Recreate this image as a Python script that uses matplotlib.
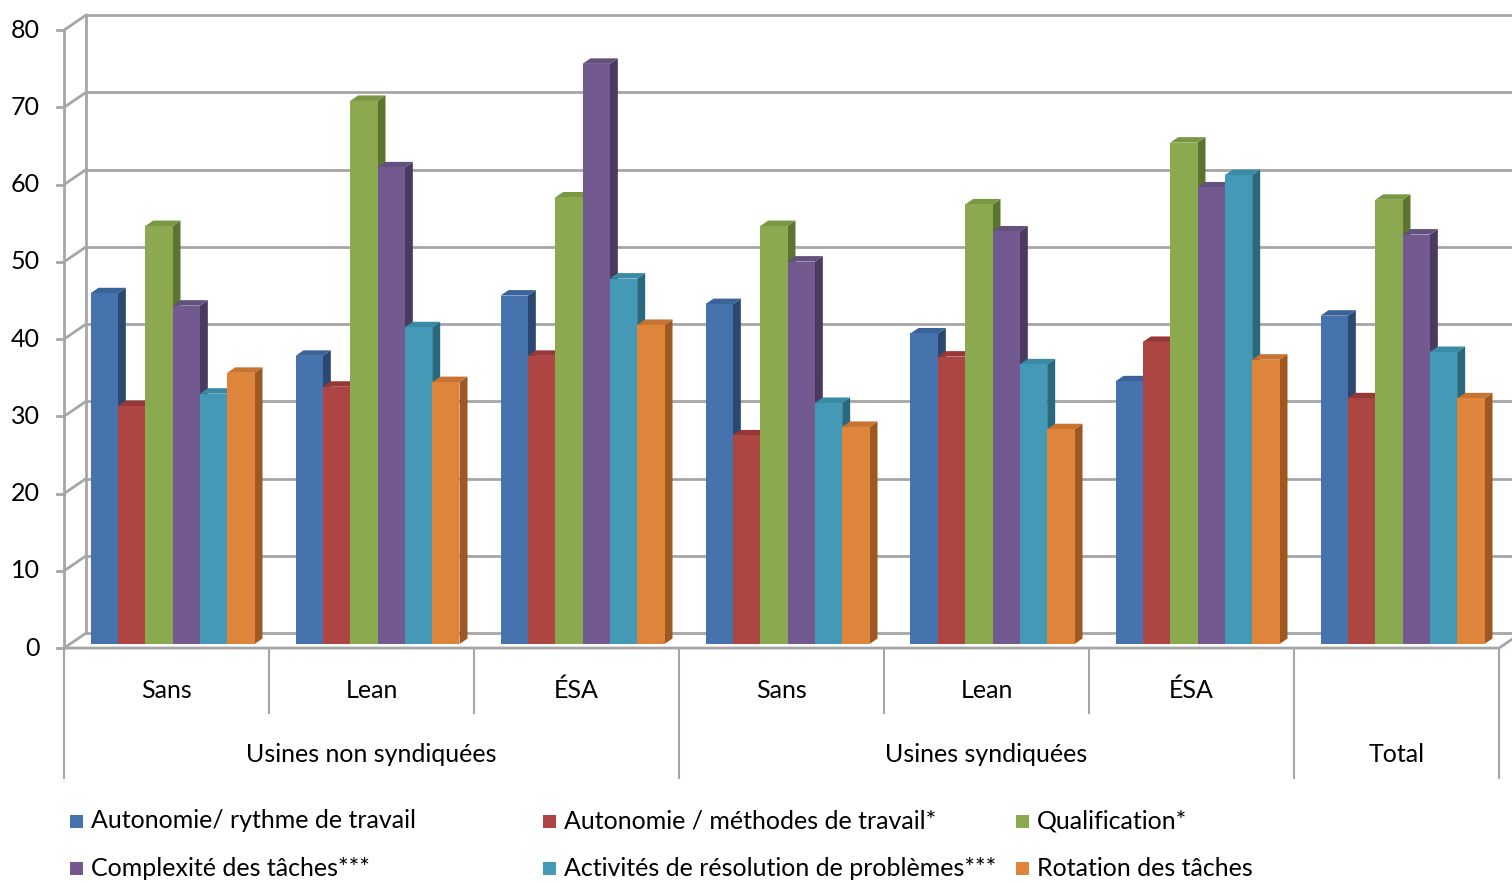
import matplotlib.pyplot as plt
from matplotlib.patches import Polygon, Rectangle

plt.rcParams['font.family'] = ['Lato', 'DejaVu Sans']

# ------------------------------------------------------------
# data
# ------------------------------------------------------------
categories = ['Sans', 'Lean', 'ÉSA', 'Sans', 'Lean', 'ÉSA', '']
groups = ['Usines non syndiquées', 'Usines syndiquées', 'Total']
group_spans = [(0, 3), (3, 6), (6, 7)]

series_names = ['Autonomie/ rythme de travail',
                'Autonomie / méthodes de travail*',
                'Qualification*',
                'Complexité des tâches***',
                'Activités de résolution de problèmes***',
                'Rotation des tâches']
autonomie_rythme   = [45.4, 37.3, 45.1, 44.0, 40.2, 34.0, 42.5]
autonomie_methodes = [30.8, 33.3, 37.3, 27.0, 37.2, 39.1, 31.8]
qualification      = [54.1, 70.3, 57.8, 54.1, 56.9, 64.9, 57.5]
complexite         = [43.8, 61.7, 75.1, 49.5, 53.4, 59.1, 53.0]
resolution         = [32.4, 41.0, 47.3, 31.2, 36.2, 60.7, 37.8]
rotation           = [35.1, 33.9, 41.3, 28.1, 27.8, 36.8, 31.8]
series = [autonomie_rythme, autonomie_methodes, qualification,
          complexite, resolution, rotation]
yticks = list(range(0, 81, 10))

# front / side / top colours
colors = [('#4672AD', '#2B4970', '#3A6399'),
          ('#AD4542', '#7A2D2B', '#963836'),
          ('#8BA94F', '#5C7431', '#7A9844'),
          ('#72598F', '#4A3A60', '#62507E'),
          ('#4399B6', '#28697F', '#398AA5'),
          ('#DE843B', '#9E5821', '#C87332')]

# ------------------------------------------------------------
# geometry (pixels -> data)
# ------------------------------------------------------------
W, H = 1512, 882
X0, Y0 = 70, 644          # bar plane origin in pixels
PX, PY = 205, 7.725       # pixels per category / per unit
FS = 18

def dx(p): return p / PX
def dy(p): return p / PY
def xd(p): return (p - X0) / PX
def yd(p): return (Y0 - p) / PY

fx, fy = dx(-5.9), dy(-4.05)    # front plane offset
bx, by = dx(16.1), dy(10.95)    # back wall offset
sx, sy = dx(8), dy(5.5)         # bar depth offset

fig = plt.figure(figsize=(W / 100, H / 100), dpi=100)
ax = fig.add_axes([0, 0, 1, 1])
ax.set_xlim(xd(0), xd(W))
ax.set_ylim(yd(H), yd(0))
ax.axis('off')

GRID = '#A6A6A6'
n = len(categories)
for v in yticks:
    ax.plot([bx, xd(W)], [v + by, v + by], color=GRID, lw=2, zorder=1)
    ax.plot([fx, bx], [v + fy, v + by], color=GRID, lw=2, zorder=1)
    ax.plot([fx - dx(7), fx], [v + fy, v + fy], color=GRID, lw=2, zorder=1)
    ax.text(fx - dx(24), v + fy, str(v), ha='right', va='center',
            fontsize=FS, color='black')
ax.plot([fx, fx], [fy, 80 + fy], color=GRID, lw=2, zorder=1)
ax.plot([bx, bx], [by, 80 + by], color=GRID, lw=2, zorder=1)
ax.plot([fx, n + fx, n + bx], [fy, fy, by], color=GRID, lw=2, zorder=1)

# bars
ns = len(series)
bw = 1 / (ns + 1.5)
start = (1 - ns * bw) / 2
z = 3
for i in range(n):
    for k, vals in enumerate(series):
        x0 = i + start + k * bw
        v = vals[i]
        cf, cs, ct = colors[k]
        ax.add_patch(Polygon([(x0 + bw, 0), (x0 + bw + sx, sy),
                              (x0 + bw + sx, v + sy), (x0 + bw, v)],
                             closed=True, fc=cs, ec='none', zorder=z))
        ax.add_patch(Polygon([(x0, v), (x0 + bw, v), (x0 + bw + sx, v + sy),
                              (x0 + sx, v + sy)],
                             closed=True, fc=ct, ec='none', zorder=z))
        ax.bar(x0, v, width=bw, align='edge', color=cf, zorder=z + 0.5)
        z += 1

# category axis
lvl1, lvl2 = yd(713), yd(778)
for i in range(n + 1):
    bottom = lvl2 if i in (0, 3, 6, 7) else lvl1
    ax.plot([i + fx, i + fx], [fy, bottom], color=GRID, lw=1.5, zorder=1)
for i, c in enumerate(categories):
    ax.text(i + 0.5 + fx, yd(690), c, ha='center', va='center', fontsize=FS)
for g, (a, b) in zip(groups, group_spans):
    ax.text((a + b) / 2 + fx, yd(755), g, ha='center', va='center', fontsize=FS)

# legend
leg_x = [70, 543, 1016]
leg_y = [821, 868]
for k, name in enumerate(series_names):
    px_, py_ = leg_x[k % 3], leg_y[k // 3]
    ax.add_patch(Rectangle((xd(px_), yd(py_ + 7)), dx(13), dy(13),
                           fc=colors[k][0], ec='none'))
    ax.text(xd(px_ + 21), yd(py_), name, ha='left', va='center', fontsize=FS)

fig.savefig('out.png', dpi=100)
